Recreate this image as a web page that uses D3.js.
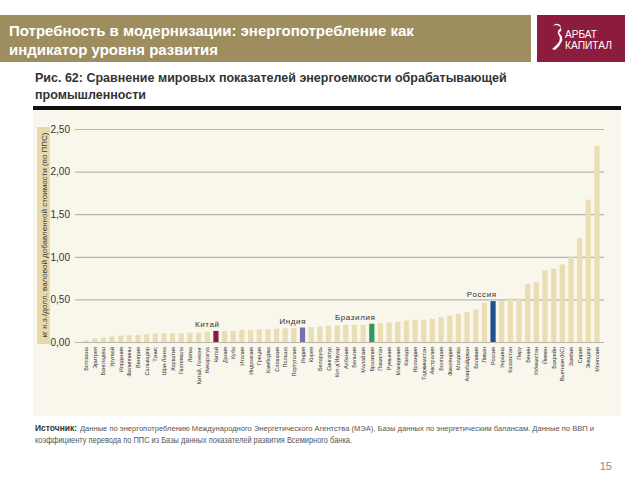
<!DOCTYPE html>
<html>
<head>
<meta charset="utf-8">
<script src="https://cdn.jsdelivr.net/npm/d3@7"></script>
<style>
  body { margin: 0; background: #fff; }
  svg text { font-family: "Liberation Sans", Arial, sans-serif; }
</style>
</head>
<body>
<div id="chart"></div>
<script>
// chart data
var countries = ["Ботсвана", "Эритрея", "Бангладеш", "Уругвай", "Иордания", "Филиппины", "Венгрия",
  "Сальвадор", "Тунис", "Шри-Ланка", "Хорватия", "Гватемала", "Литва", "Китай, Гонконг", "Никарагуа",
  "Китай", "Дания", "Куба", "Италия", "Индонезия", "Греция", "Камбоджа", "Словакия", "Польша",
  "Португалия", "Индия", "Корея", "Беларусь", "Сингапур", "Кот-д'Ивуар", "Албания", "Бельгия",
  "Малайзия", "Бразилия", "Пакистан", "Румыния", "Македония", "Канада", "Ирландия", "Таджикистан",
  "Австралия", "Болгария", "Финляндия", "Молдова", "Азербайджан", "Боливия", "Ливан", "Россия",
  "Украина", "Казахстан", "Перу", "Бенин", "Узбекистан", "Йемен", "Бахрейн", "Вьетнам (КС)",
  "Замбия", "Сирия", "Эквадор", "Монголия"];

var values = [0.02, 0.04, 0.05, 0.065, 0.075, 0.08, 0.085, 0.09, 0.10, 0.105, 0.105, 0.105, 0.11, 0.11, 0.12,
  0.13, 0.13, 0.13, 0.14, 0.14, 0.15, 0.15, 0.155, 0.16, 0.165, 0.17, 0.175, 0.18, 0.19, 0.195,
  0.20, 0.20, 0.20, 0.215, 0.22, 0.23, 0.235, 0.25, 0.26, 0.26, 0.27, 0.29, 0.31, 0.33, 0.35,
  0.38, 0.46, 0.48, 0.48, 0.51, 0.51, 0.68, 0.70, 0.84, 0.86, 0.91, 1.00, 1.22, 1.67, 2.30];

var highlighted = ["Китай", "Индия", "Бразилия", "Россия"];
var highlightColors = ["#8a1a3c", "#7471ad", "#2f9a5c", "#1f4f8e"];

var yTicks = [0, 0.5, 1, 1.5, 2, 2.5];

var titleLines = ["Потребность в модернизации: энергопотребление как", "индикатор уровня развития"];
var subtitleLines = ["Рис. 62: Сравнение мировых показателей энергоемкости обрабатывающей", "промышленности"];
var yTitle = "кг н.э./долл. валовой добавленной стоимости (по ППС)";
var sourceBold = "Источник:";
var sourceLines = ["Данные по энергопотреблению Международного Энергетического Агентства (МЭА), Базы данных по энергетическим балансам.  Данные по ВВП и",
  "коэффициенту перевода по ППС из Базы данных показателей развития Всемирного банка."];
var pageNum = "15";

var svg = d3.select("#chart").append("svg")
    .attr("width", 640)
    .attr("height", 480);

// header bar
svg.append("rect").attr("x", 0).attr("y", 15).attr("width", 531).attr("height", 47).attr("fill", "#9e8d5f");
svg.selectAll(".title").data(titleLines).enter().append("text")
    .attr("x", 9)
    .attr("y", function(d, i){ return 36 + i * 19; })
    .attr("fill", "#fff")
    .attr("font-size", 15)
    .attr("font-weight", "bold")
    .text(function(d){ return d; });

// logo box
svg.append("rect").attr("x", 537).attr("y", 15).attr("width", 88).attr("height", 47).attr("fill", "#8c1c3d");
svg.append("path")
    .attr("d", "M553,26 q5,-3 8,2 q-4,2 -3,6 q3,3 1,8 q-3,4 -7,7 l3,1 q5,-4 7,-9 q1,-5 -3,-8 q4,-3 1,-8 q-4,-3 -7,1 z")
    .attr("fill", "#fff");
svg.selectAll(".logo").data(["АРБАТ", "КАПИТАЛ"]).enter().append("text")
    .attr("x", 565)
    .attr("y", function(d, i){ return 38 + i * 11; })
    .attr("fill", "#fff")
    .attr("font-size", 11)
    .attr("textLength", function(d, i){ return i ? 47 : 32; })
    .attr("lengthAdjust", "spacingAndGlyphs")
    .text(function(d){ return d; });

// chart panel
svg.append("rect").attr("x", 33).attr("y", 110).attr("width", 588).attr("height", 306).attr("fill", "#f9f6ec");
svg.append("rect").attr("x", 33).attr("y", 106).attr("width", 588).attr("height", 4).attr("fill", "#111");

svg.selectAll(".subtitle").data(subtitleLines).enter().append("text")
    .attr("x", 35)
    .attr("y", function(d, i){ return 82 + i * 17; })
    .attr("fill", "#333")
    .attr("font-size", 12.5)
    .attr("font-weight", "bold")
    .text(function(d){ return d; });

var x = d3.scaleBand()
    .domain(countries)
    .range([81.7, 601.3])
    .paddingInner(0.4)
    .paddingOuter(0.2);

var y = d3.scaleLinear()
    .domain([0, 2.5])
    .range([342, 129]);

// y title box
svg.append("rect").attr("x", 37).attr("y", 127).attr("width", 13).attr("height", 217).attr("fill", "#e5d9ad");
svg.append("text")
    .attr("transform", "translate(46.5,235) rotate(-90)")
    .attr("text-anchor", "middle")
    .attr("font-size", 7.5)
    .attr("fill", "#3a3a3a")
    .attr("textLength", 205)
    .attr("lengthAdjust", "spacingAndGlyphs")
    .text(yTitle);

// grid + tick labels
var yAxis = d3.axisLeft(y)
    .tickValues(yTicks)
    .tickSize(-529)
    .tickPadding(6)
    .tickFormat(function(d){ return d3.format(".2f")(d).replace(".", ","); });

var gy = svg.append("g")
    .attr("transform", "translate(75,0)")
    .call(yAxis);
gy.select(".domain").remove();
gy.selectAll(".tick line").attr("stroke", "#b9b5aa").attr("stroke-width", 1.2);
gy.selectAll(".tick text")
    .attr("x", -5)
    .attr("fill", "#333")
    .attr("font-size", 10)
    .attr("font-family", "'Liberation Sans Narrow', 'DejaVu Sans Condensed', sans-serif");

// bars
svg.selectAll(".bar").data(countries).enter().append("rect")
    .attr("x", function(d){ return x(d); })
    .attr("y", function(d, i){ return y(values[i]); })
    .attr("width", x.bandwidth())
    .attr("height", function(d, i){ return y(0) - y(values[i]); })
    .attr("fill", function(d){
        var k = highlighted.indexOf(d);
        return k >= 0 ? highlightColors[k] : "#e9ddb3";
    });

// labels over highlighted bars
svg.selectAll(".hl").data(highlighted).enter().append("text")
    .attr("x", function(d){ return x(d) + x.bandwidth() + 1; })
    .attr("y", function(d){ return y(values[countries.indexOf(d)]) - 4; })
    .attr("text-anchor", "end")
    .attr("font-size", 8)
    .attr("letter-spacing", 0.6)
    .attr("fill", "#333")
    .text(function(d){ return d; });

// country labels
svg.selectAll(".xl").data(countries).enter().append("text")
    .attr("transform", function(d){ return "translate(" + (x(d) + x.bandwidth() / 2 + 2) + ",347) rotate(-90)"; })
    .attr("text-anchor", "end")
    .attr("font-size", 5.5)
    .attr("fill", "#333")
    .attr("font-family", "'Liberation Sans Narrow', 'DejaVu Sans Condensed', sans-serif")
    .text(function(d){ return d; });

// source note
svg.append("text")
    .attr("x", 35).attr("y", 431)
    .attr("font-size", 8.5)
    .attr("font-weight", "bold")
    .attr("fill", "#333")
    .attr("textLength", 42)
    .attr("lengthAdjust", "spacingAndGlyphs")
    .text(sourceBold);
svg.append("text")
    .attr("x", 80).attr("y", 431)
    .attr("font-size", 7.6)
    .attr("fill", "#555")
    .attr("textLength", 514)
    .attr("lengthAdjust", "spacingAndGlyphs")
    .text(sourceLines[0]);
svg.append("text")
    .attr("x", 35).attr("y", 443)
    .attr("font-size", 8.5)
    .attr("fill", "#555")
    .attr("textLength", 317)
    .attr("lengthAdjust", "spacingAndGlyphs")
    .text(sourceLines[1]);

svg.append("text")
    .attr("x", 612).attr("y", 470)
    .attr("text-anchor", "end")
    .attr("font-size", 11)
    .attr("fill", "#888")
    .text(pageNum);
</script>
</body>
</html>
